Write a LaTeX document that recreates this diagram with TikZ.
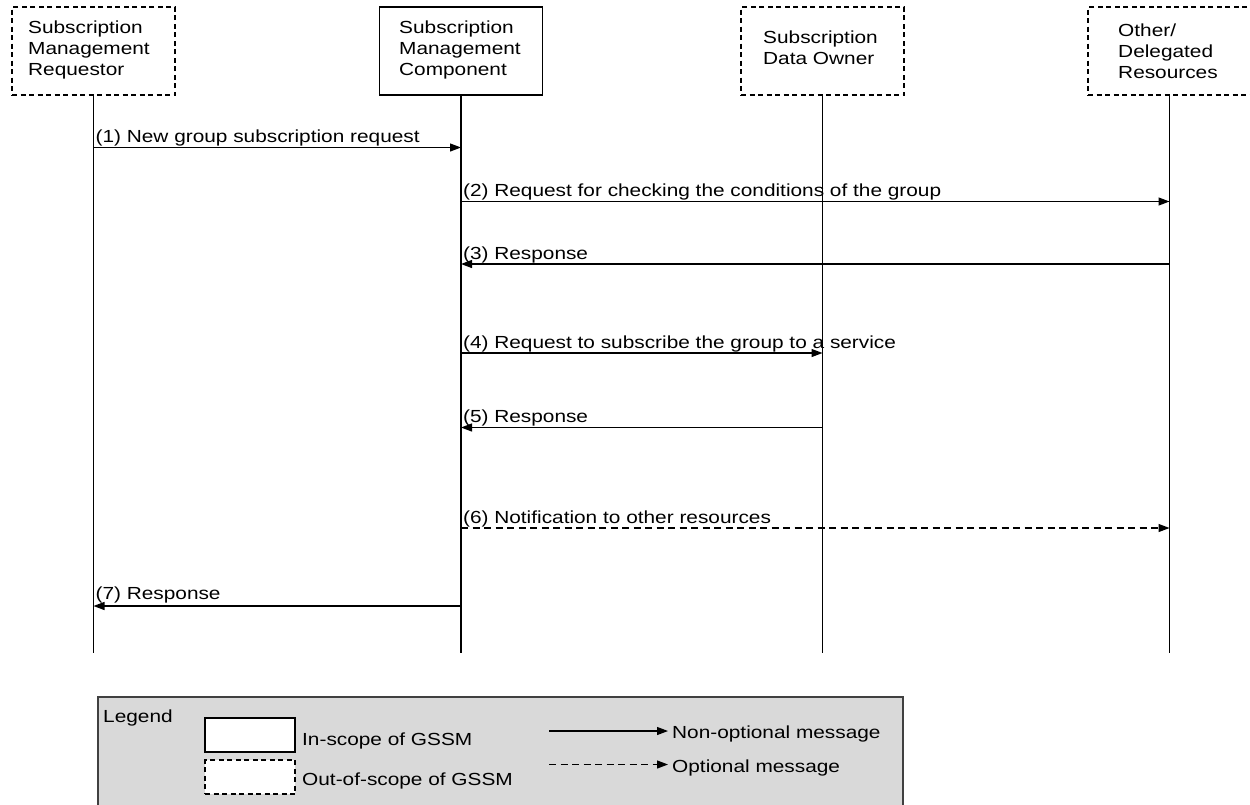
\documentclass[tikz,border=0pt]{standalone}
\usepackage{fontspec}
\setmainfont{Liberation Sans}[FakeStretch=1.19]
\usetikzlibrary{arrows.meta}
\definecolor{legendgray}{HTML}{D9D9D9}
\definecolor{legendborder}{HTML}{404040}
\begin{document}
\begin{tikzpicture}[x=1pt,y=-1pt,
  font=\fontsize{17.5}{21}\selectfont,
  every node/.style={inner sep=0pt},
  actor/.style={draw, line width=1.2pt, fill=white, minimum width=163pt, minimum height=88pt},
  outscope/.style={actor, dash pattern=on 5pt off 3.5pt},
  txt/.style={anchor=base west, inner sep=0pt},
  life/.style={line width=1.2pt},
  msg/.style={line width=1.2pt, -{Triangle[length=11pt,width=8pt]}},
  optmsg/.style={msg, dash pattern=on 7pt off 4.5pt},
  lbl/.style={anchor=base west, inner sep=0pt, yshift=5pt, xshift=1.5pt},
  legbox/.style={draw, line width=1.2pt, fill=white, minimum width=90pt, minimum height=34pt}]

\useasboundingbox (0,0) rectangle (1250,804);

% actors
\node[outscope] (A) at (93.5,51) {};
\node[actor]    (B) at (461,51) {};
\node[outscope] (C) at (822.5,51) {};
\node[outscope] (D) at (1169.5,51) {};

\node[txt] (At) at (28,33)   {\parbox[t]{140pt}{Subscription\\Management\\Requestor}};
\node[txt] (Bt) at (399,33)  {\parbox[t]{140pt}{Subscription\\Management\\Component}};
\node[txt] (Ct) at (763,43)  {\parbox[t]{140pt}{Subscription\\Data Owner}};
\node[txt] (Dt) at (1118,36.5) {\parbox[t]{130pt}{Other/\\Delegated\\Resources}};

% lifelines
\coordinate (yend) at (0,653);
\draw[life] (A.south) -- (A.south |- yend);
\draw[life] (B.south) -- (B.south |- yend);
\draw[life] (C.south) -- (C.south |- yend);
\draw[life] (D.south) -- (D.south |- yend);

% message levels
\coordinate (m1) at (0,147.5);
\coordinate (m2) at (0,201.5);
\coordinate (m3) at (0,264);
\coordinate (m4) at (0,353);
\coordinate (m5) at (0,427.5);
\coordinate (m6) at (0,528);
\coordinate (m7) at (0,606);

\draw[msg] (A.south |- m1) -- (B.south |- m1)
  node[lbl,pos=0] (l1) {(1) New group subscription request};
\draw[msg] (B.south |- m2) -- (D.south |- m2)
  node[lbl,pos=0] (l2) {(2) Request for checking the conditions of the group};
\draw[msg] (D.south |- m3) -- (B.south |- m3)
  node[lbl,pos=1] (l3) {(3) Response};
\draw[msg] (B.south |- m4) -- (C.south |- m4)
  node[lbl,pos=0] (l4) {(4) Request to subscribe the group to a service};
\draw[msg] (C.south |- m5) -- (B.south |- m5)
  node[lbl,pos=1] (l5) {(5) Response};
\draw[optmsg] (B.south |- m6) -- (D.south |- m6)
  node[lbl,pos=0] (l6) {(6) Notification to other resources};
\draw[msg] (B.south |- m7) -- (A.south |- m7)
  node[lbl,pos=1,yshift=1.5pt] (l7) {(7) Response};

% legend
\draw[line width=1.2pt, draw=legendborder, fill=legendgray] (98,697) rectangle (903,808);
\node[txt] (lg) at (103,722) {Legend};
\node[legbox] (inbox) at (250,735) {};
\node[legbox, dash pattern=on 5pt off 3.5pt] (outbox) at (250,777) {};
\node[txt] (intxt) at (302,745.5) {In-scope of GSSM};
\node[txt] (outtxt) at (302,785.5) {Out-of-scope of GSSM};
\coordinate (s1) at (549,731);
\coordinate (e1) at (668,731);
\coordinate (s2) at (549,764.5);
\coordinate (e2) at (668,764.5);
\draw[msg] (s1) -- (e1);
\draw[optmsg] (s2) -- (e2);
\node[txt] (nonopt) at (672,738.5) {Non-optional message};
\node[txt] (opt) at (672,772) {Optional message};
\end{tikzpicture}
\end{document}
